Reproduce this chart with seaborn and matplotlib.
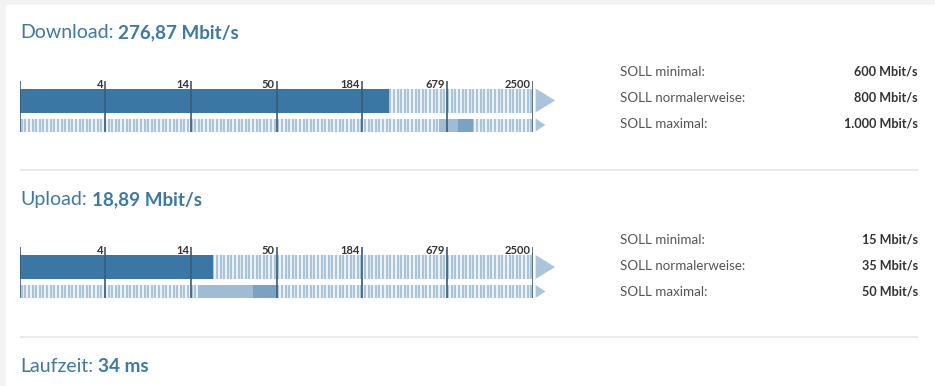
import numpy as np
import matplotlib
matplotlib.use("Agg")
import matplotlib.pyplot as plt
from matplotlib.transforms import blended_transform_factory
from matplotlib.patches import Polygon, Rectangle
import seaborn as sns

# ---- data ----
tick_values = [1, 3.68, 13.57, 50, 184.2, 678.6, 2500]
tick_labels = ["", "4", "14", "50", "184", "679", "2500"]

download_value = 276.87
download_soll = [600, 800, 1000]
download_soll_text = ["600 Mbit/s", "800 Mbit/s", "1.000 Mbit/s"]

upload_value = 18.89
upload_soll = [15, 35, 50]
upload_soll_text = ["15 Mbit/s", "35 Mbit/s", "50 Mbit/s"]

soll_names = ["SOLL minimal:", "SOLL normalerweise:", "SOLL maximal:"]
latency_ms = 34

# ---- style ----
sns.set_theme(style="white")
plt.rcParams["font.family"] = ["Lato", "DejaVu Sans"]

BLUE = "#3a77a4"
TITLE_BLUE = "#3b79a6"
STRIPE = "#a9c4db"
BAND_LIGHT = "#9fbcd4"
BAND_DARK = "#7ba2c4"
TICK = "#3a5b78"
W, H = 935, 386

fig = plt.figure(figsize=(W / 100, H / 100), dpi=100, facecolor="#f3f3f3")
bg = fig.add_axes([0, 0, 1, 1])
bg.set_xlim(0, W)
bg.set_ylim(H, 0)
bg.axis("off")
bg.add_patch(Rectangle((6, 5), W, H, color="white", zorder=0))
renderer = fig.canvas.get_renderer()


def title(y, label, value):
    t = bg.text(20, y, label, fontsize=14, color=TITLE_BLUE, va="center", ha="left")
    bb = t.get_window_extent(renderer)
    bg.text(20 + bb.width + 5, y, value, fontsize=13.6, color=TITLE_BLUE,
            fontweight="bold", va="center", ha="left")


def soll_table(y0, values):
    for i, (name, val) in enumerate(zip(soll_names, values)):
        y = y0 + i * 26
        bg.text(620, y, name, fontsize=9.6, color="#555555", va="center", ha="left")
        bg.text(918, y, val, fontsize=9.1, color="#333333", fontweight="bold",
                va="center", ha="right")


def gauge(top, value, soll):
    ax = fig.add_axes([20 / W, 1 - (top + 51) / H, 513 / W, 51 / H])
    ax.set_xscale("log")
    ax.set_xlim(tick_values[0], tick_values[-1])
    ax.set_ylim(51, 0)
    ax.axis("off")
    ax.patch.set_alpha(0)
    tr = blended_transform_factory(ax.transAxes, ax.transData)
    # striped background of both rows
    n = int(513 / 3.6)
    xs = (np.arange(n) + 0.5) / n
    ax.vlines(xs, 8, 32, transform=tr, color=STRIPE, lw=1.75, zorder=1)
    ax.vlines(xs, 38, 51, transform=tr, color=STRIPE, lw=1.75, zorder=1)
    # measured value
    ax.barh(20, value - tick_values[0], left=tick_values[0], height=24,
            color=BLUE, lw=0, zorder=2)
    # target band
    ax.barh(44.5, soll[1] - soll[0], left=soll[0], height=13,
            color=BAND_LIGHT, lw=0, zorder=2)
    ax.barh(44.5, soll[2] - soll[1], left=soll[1], height=13,
            color=BAND_DARK, lw=0, zorder=2)
    # ticks
    for v, lab in zip(tick_values, tick_labels):
        ax.vlines(v, 0, 51, color=TICK, lw=1.2, zorder=3)
        ax.annotate(lab, (v, 4), xytext=(-1.5, 0), textcoords="offset points",
                    ha="right", va="center", fontsize=8, fontweight="bold",
                    color="#333333", zorder=4)
    # arrows
    ax.add_patch(Polygon([(1.005, 8), (1.005, 32), (1.043, 20)], closed=True,
                         transform=tr, clip_on=False, color=STRIPE, lw=0))
    ax.add_patch(Polygon([(1.005, 38), (1.005, 51), (1.024, 44.5)], closed=True,
                         transform=tr, clip_on=False, color=STRIPE, lw=0))
    return ax


title(33, "Download:", f"{download_value:.2f}".replace(".", ",") + " Mbit/s")
gauge(80.5, download_value, download_soll)
soll_table(72, download_soll_text)

bg.hlines([170, 337], 20, 918, color="#e2e6ea", lw=1.2)

title(200, "Upload:", f"{upload_value:.2f}".replace(".", ",") + " Mbit/s")
gauge(247, upload_value, upload_soll)
soll_table(239.5, upload_soll_text)

title(367, "Laufzeit:", f"{latency_ms} ms")

fig.savefig("out.png", dpi=100, facecolor=fig.get_facecolor())
